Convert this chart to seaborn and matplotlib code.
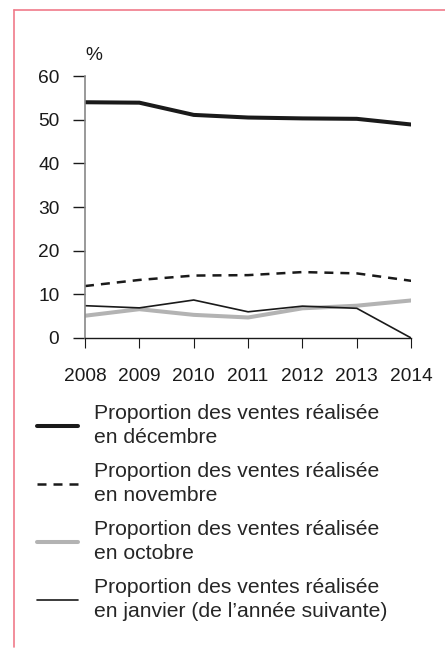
import pandas as pd
import matplotlib.pyplot as plt
import seaborn as sns
from matplotlib.lines import Line2D

# data
years = [2008, 2009, 2010, 2011, 2012, 2013, 2014]
decembre = [54.0, 53.9, 51.1, 50.5, 50.3, 50.2, 48.9]
novembre = [11.9, 13.3, 14.3, 14.4, 15.1, 14.8, 13.1]
octobre = [5.1, 6.6, 5.3, 4.7, 6.8, 7.4, 8.6]
janvier = [7.4, 6.9, 8.7, 6.0, 7.3, 6.8, 0.0]

labels = [
    "Proportion des ventes réalisée\nen décembre",
    "Proportion des ventes réalisée\nen novembre",
    "Proportion des ventes réalisée\nen octobre",
    "Proportion des ventes réalisée\nen janvier (de l\u2019année suivante)",
]

sns.set_style("white")
plt.rcParams['font.family'] = ['Liberation Sans', 'DejaVu Sans']

fig = plt.figure(figsize=(4.45, 6.5), dpi=100)
ax = fig.add_axes([0.191, 0.48, 0.733, 0.403])

styles = [
    dict(color="#1a1a1a", lw=2.9, ls="-"),
    dict(color="#1a1a1a", lw=1.8, ls=(0, (3.6, 2.8))),
    dict(color="#b3b3b3", lw=2.9, ls="-"),
    dict(color="#1a1a1a", lw=1.2, ls="-"),
]
series = [decembre, novembre, octobre, janvier]

for vals, lab, st in zip(series, labels, styles):
    df = pd.DataFrame({"annee": years, "valeur": vals})
    sns.lineplot(data=df, x="annee", y="valeur", ax=ax, color=st["color"],
                 linewidth=st["lw"], linestyle=st["ls"], label=lab)

ax.set_xlim(2008, 2014)
ax.set_ylim(0, 60)
ax.set_xticks(years)
ax.set_xticklabels([str(y) for y in years])
ax.set_yticks([0, 10, 20, 30, 40, 50, 60])
ax.set_xlabel("")
ax.set_ylabel("")
ax.tick_params(axis="both", labelsize=13.8, colors="#1a1a1a")
ax.tick_params(axis="y", length=8.5, width=1, direction="out", pad=10, left=True)
ax.tick_params(axis="x", length=7.5, width=0.8, direction="out", pad=14, bottom=True)
for s in ["top", "right"]:
    ax.spines[s].set_visible(False)
ax.spines["left"].set_color("#888888")
ax.spines["left"].set_linewidth(1.2)
ax.spines["bottom"].set_color("#1a1a1a")
ax.spines["bottom"].set_linewidth(1.0)

fig.text(85 / 445, 1 - 55 / 650, "%", fontsize=13.8, ha="left", va="center",
         color="#1a1a1a")

leg = ax.legend(loc="upper left", bbox_to_anchor=(37 / 445, 1 - 404 / 650),
                bbox_transform=fig.transFigure, frameon=False, fontsize=15.2,
                handlelength=1.95, handletextpad=0.75, labelspacing=0.7,
                borderaxespad=0, borderpad=0)
for t in leg.get_texts():
    t.set_linespacing(1.35)

# pink frame
fig.add_artist(Line2D([14 / 445, 14 / 445], [1 - 10 / 650, 1 - 647 / 650],
                      transform=fig.transFigure, color="#f07a8a", lw=1.2))
fig.add_artist(Line2D([14 / 445, 1.0], [1 - 10 / 650, 1 - 10 / 650],
                      transform=fig.transFigure, color="#f07a8a", lw=1.2))

fig.savefig("out.png", dpi=100)
